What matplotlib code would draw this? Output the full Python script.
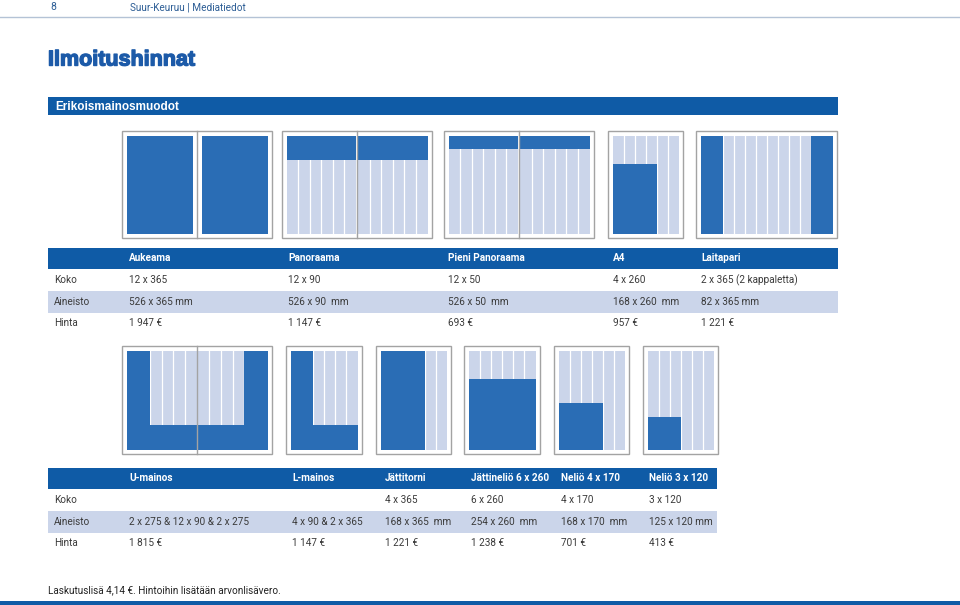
import matplotlib.pyplot as plt
import matplotlib.patheffects as pe
from matplotlib.patches import Rectangle

# --- data ---------------------------------------------------------------
row_labels = ['Koko', 'Aineisto', 'Hinta']

names1 = ['Aukeama', 'Panoraama', 'Pieni Panoraama', 'A4', 'Laitapari']
koko1 = ['12 x 365', '12 x 90', '12 x 50', '4 x 260', '2 x 365 (2 kappaletta)']
aineisto1 = ['526 x 365 mm', '526 x 90  mm', '526 x 50  mm', '168 x 260  mm', '82 x 365 mm']
hinta1 = ['1 947 €', '1 147 €', '693 €', '957 €', '1 221 €']

names2 = ['U-mainos', 'L-mainos', 'Jättitorni', 'Jättineliö 6 x 260', 'Neliö 4 x 170', 'Neliö 3 x 120']
koko2 = ['', '', '4 x 365', '6 x 260', '4 x 170', '3 x 120']
aineisto2 = ['2 x 275 & 12 x 90 & 2 x 275', '4 x 90 & 2 x 365', '168 x 365  mm',
             '254 x 260  mm', '168 x 170  mm', '125 x 120 mm']
hinta2 = ['1 815 €', '1 147 €', '1 221 €', '1 238 €', '701 €', '413 €']

# ad shapes: (first column, columns, height in mm, anchored at)
page_mm = 365
pages1 = [2, 2, 2, 1, 2]
ads1 = [
    [(0, 12, 365, 'top')],
    [(0, 12, 90, 'top')],
    [(0, 12, 50, 'top')],
    [(0, 4, 260, 'bottom')],
    [(0, 2, 365, 'top'), (10, 2, 365, 'top')],
]
pages2 = [2, 1, 1, 1, 1, 1]
ads2 = [
    [(0, 2, 365, 'top'), (10, 2, 365, 'top'), (0, 12, 90, 'bottom')],
    [(0, 2, 365, 'top'), (0, 6, 90, 'bottom')],
    [(0, 4, 365, 'top')],
    [(0, 6, 260, 'bottom')],
    [(0, 4, 170, 'bottom')],
    [(0, 3, 120, 'bottom')],
]

# --- colours / fonts ----------------------------------------------------
BLUE = '#2a6db5'
DARK = '#0f5ba6'
LIGHT = '#cbd5ea'
FRAME = '#a3a3a3'
TXT = '#3a3a3a'
NARROW = ['Roboto', 'DejaVu Sans']
FS = 7.2

fig = plt.figure(figsize=(9.6, 6.05), dpi=100)
ax = fig.add_axes([0, 0, 1, 1])
ax.set_xlim(0, 960)
ax.set_ylim(605, 0)
ax.axis('off')

# page head
ax.plot([0, 960], [16.5, 16.5], color='#b4c3d6', lw=1)
ax.text(50, 7, '8', fontsize=7.5, color='#2c5d95', family=NARROW, va='center')
ax.text(130, 7, 'Suur-Keuruu | Mediatiedot', fontsize=7.2, color='#2c5d95',
        family=NARROW, va='center')
ax.text(48, 60, 'Ilmoitushinnat', fontsize=15.5, fontweight='heavy', color='#1c5aa8',
        family=['Liberation Sans', 'DejaVu Sans'], va='center',
        path_effects=[pe.withStroke(linewidth=1.0, foreground='#1c5aa8')])

ax.add_patch(Rectangle((48, 97), 790, 18, color=DARK, lw=0))
ax.text(55, 106.5, 'Erikoismainosmuodot', fontsize=8.5, fontweight='bold', color='white',
        family=['Liberation Sans', 'DejaVu Sans'], va='center')


def draw_spread(x0, y0, w, h, npages, ads, gutter, divider=True):
    ax.add_patch(Rectangle((x0, y0), w, h, facecolor='white', edgecolor=FRAME, lw=1, zorder=1))
    pw = w / npages
    top, bot, side = 4.5, 4.5, 4.5
    ih = h - top - bot
    areas = []
    if divider:
        ncols_page = 6
        for p in range(npages):
            left = x0 + p * pw + (side if p == 0 else gutter)
            right = x0 + (p + 1) * pw - (side if p == npages - 1 else gutter)
            areas.append((left, right, p * 6))
    else:
        ncols_page = 6 * npages
        areas.append((x0 + side, x0 + w - side, 0))
    for left, right, c0 in areas:
        cw = (right - left) / ncols_page
        ax.add_patch(Rectangle((left, y0 + top), right - left, ih, color=LIGHT, lw=0, zorder=1.2))
        for k in range(1, ncols_page):
            ax.plot([left + k * cw] * 2, [y0 + top, y0 + top + ih], color='white',
                    lw=0.9, zorder=1.4)
        for col, ncol, mm, anchor in ads:
            a = max(col, c0)
            b = min(col + ncol, c0 + ncols_page)
            if b <= a:
                continue
            bh = ih * mm / page_mm
            by = y0 + top if anchor == 'top' else y0 + top + ih - bh
            ax.add_patch(Rectangle((left + (a - c0) * cw, by), (b - a) * cw, bh,
                                   color=BLUE, lw=0, zorder=1.6))
    if divider:
        for p in range(1, npages):
            ax.plot([x0 + p * pw] * 2, [y0, y0 + h], color=FRAME, lw=1, zorder=1.8)


def draw_table(y0, xs, right, names, rows):
    rh = 21.7
    ax.add_patch(Rectangle((48, y0), right - 48, rh, color=DARK, lw=0))
    ax.add_patch(Rectangle((48, y0 + 2 * rh), right - 48, rh, color=LIGHT, lw=0))
    for x, n in zip(xs, names):
        ax.text(x, y0 + rh / 2, n, fontsize=FS, fontweight='bold', color='white',
                family=NARROW, va='center')
    for i, (lab, vals) in enumerate(zip(row_labels, rows)):
        yc = y0 + (i + 1.5) * rh
        ax.text(54, yc, lab, fontsize=FS, color=TXT, family=NARROW, va='center')
        for x, v in zip(xs, vals):
            ax.text(x, yc, v, fontsize=FS, color=TXT, family=NARROW, va='center')


# row 1 diagrams
xs1 = [122, 282, 444, 608, 696]
ws1 = [150, 150, 150, 75, 141]
gut1 = [4.5, 1.2, 1.2, 0, 0]
for i in range(len(names1)):
    draw_spread(xs1[i], 131, ws1[i], 107, pages1[i], ads1[i], gut1[i],
                divider=(i != 4))

draw_table(247.5, [129, 288, 448, 613, 701], 838, names1, [koko1, aineisto1, hinta1])

# row 2 diagrams
xs2 = [122, 286, 376, 464, 554, 643]
ws2 = [150, 76, 75, 76, 75, 75]
for i in range(len(names2)):
    draw_spread(xs2[i], 346, ws2[i], 108, pages2[i], ads2[i], 0.5)

draw_table(467.5, [129, 292, 385, 471, 561, 649], 717, names2, [koko2, aineisto2, hinta2])

ax.text(48, 590, 'Laskutuslisä 4,14 €. Hintoihin lisätään arvonlisävero.', fontsize=FS,
        color='#222222', family=NARROW, va='center')
ax.add_patch(Rectangle((0, 600.5), 960, 5, color=DARK, lw=0))

fig.savefig('out.png', dpi=100)
